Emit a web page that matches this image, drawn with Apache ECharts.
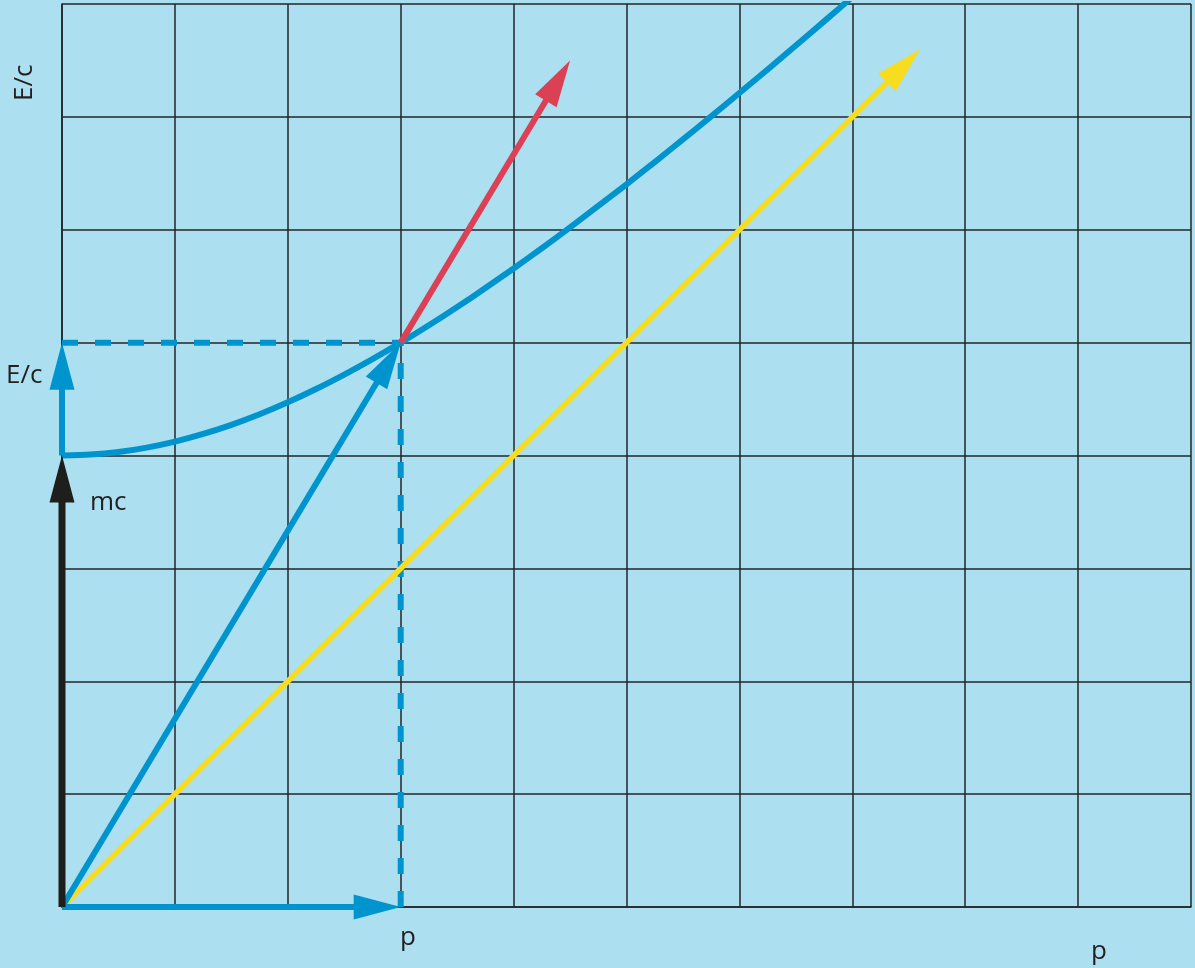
<!DOCTYPE html>
<html>
<head>
<meta charset="utf-8">
<title>Energie-Impuls-Diagramm</title>
<script src="https://cdn.jsdelivr.net/npm/echarts@6/dist/echarts.min.js"></script>
<style>
  html, body { margin: 0; padding: 0; background: #acdff0; }
  #chart { width: 1195px; height: 968px; }
</style>
</head>
<body>
<div id="chart"></div>
<script>
// Axis ranges (grid units) and tick step
const xTicks = [0, 1, 2, 3, 4, 5, 6, 7, 8, 9, 10];
const yTicks = [0, 1, 2, 3, 4, 5, 6, 7, 8];

// Energy curve E/c over p (rest value mc = 4)
const curveP = [0, 0.25, 0.5, 0.75, 1, 1.25, 1.5, 1.75, 2, 2.25, 2.5, 2.75, 3, 3.25, 3.5, 3.75, 4, 4.25, 4.5, 4.75, 5, 5.25, 5.5, 5.75, 6, 6.25, 6.5, 6.75, 7, 7.25];
const curveE = [4, 4.008, 4.031, 4.070, 4.123, 4.191, 4.272, 4.366, 4.472, 4.589, 4.717, 4.854, 5, 5.154, 5.315, 5.483, 5.657, 5.836, 6.021, 6.211, 6.403, 6.600, 6.800, 7.004, 7.211, 7.420, 7.632, 7.846, 8.062, 8.280];

// Arrows: [x1, y1, x2, y2]
const restArrow = [0, 0, 0, 4];        // mc
const energyArrow = [0, 4, 0, 5];      // E/c increment
const momentumArrow = [0, 0, 3, 0];    // p
const fourVector = [0, 0, 3, 5];       // resulting vector
const extension = [3, 5, 4.5, 7.5];    // continuation
const lightLine = [0, 0, 7.6, 7.6];    // E/c = p

// Guide lines to the point (p, E/c)
const guideH = [[0, 5], [3, 5]];
const guideV = [[3, 0], [3, 5]];

// Text labels
const labelEc = 'E/c';
const labelMc = 'mc';
const labelP = 'p';

const BLUE = '#0094cf';
const RED = '#dc4055';
const YELLOW = '#f7dc20';
const BLACK = '#1e1e1c';
const GRIDC = '#222628';

function arrowSeries(name, row, color, width) {
  return {
    type: 'custom',
    name: name,
    coordinateSystem: 'cartesian2d',
    clip: false,
    encode: { x: [0, 2], y: [1, 3] },
    data: [row],
    z: 5,
    renderItem: function (params, api) {
      const a = api.coord([api.value(0), api.value(1)]);
      const b = api.coord([api.value(2), api.value(3)]);
      const dx = b[0] - a[0], dy = b[1] - a[1];
      const len = Math.sqrt(dx * dx + dy * dy);
      const ux = dx / len, uy = dy / len;
      const headLen = 47, headW = 25;
      const bx = b[0] - ux * headLen, by = b[1] - uy * headLen;
      const nx = -uy, ny = ux;
      return {
        type: 'group',
        children: [
          {
            type: 'line',
            shape: { x1: a[0], y1: a[1], x2: bx + ux * 2, y2: by + uy * 2 },
            style: { stroke: color, lineWidth: width, lineCap: 'butt' }
          },
          {
            type: 'polygon',
            shape: { points: [[b[0], b[1]], [bx + nx * headW / 2, by + ny * headW / 2], [bx - nx * headW / 2, by - ny * headW / 2]] },
            style: { fill: color }
          }
        ]
      };
    }
  };
}

const chart = echarts.init(document.getElementById('chart'), null, { renderer: 'canvas' });

const font = '"Open Sans", "Noto Sans", sans-serif';
const textStyle = { fill: '#231f20', font: '26px ' + font };

chart.setOption({
  backgroundColor: '#acdff0',
  animation: false,
  grid: { left: 62, right: 4, top: 4, bottom: 61, containLabel: false },
  xAxis: {
    type: 'value',
    min: xTicks[0], max: xTicks[xTicks.length - 1], interval: 1,
    axisLine: { show: true, lineStyle: { color: GRIDC, width: 1.5 } },
    axisTick: { show: false },
    axisLabel: { show: false },
    splitLine: { show: true, showMinLine: true, showMaxLine: true, lineStyle: { color: GRIDC, width: 1.5 } }
  },
  yAxis: {
    type: 'value',
    min: yTicks[0], max: yTicks[yTicks.length - 1], interval: 1,
    axisLine: { show: true, lineStyle: { color: GRIDC, width: 1.5 } },
    axisTick: { show: false },
    axisLabel: { show: false },
    splitLine: { show: true, showMinLine: true, showMaxLine: true, lineStyle: { color: GRIDC, width: 1.5 } }
  },
  series: [
    {
      type: 'line', name: 'guideH', data: guideH, symbol: 'none', z: 3,
      lineStyle: { color: BLUE, width: 6, type: [16, 17] }
    },
    {
      type: 'line', name: 'guideV', data: guideV, symbol: 'none', z: 3,
      lineStyle: { color: BLUE, width: 6, type: [16, 17], dashOffset: 0 }
    },
    arrowSeries('light', lightLine, YELLOW, 5.5),
    {
      type: 'line', name: 'energy', z: 4,
      data: curveP.map((p, i) => [p, curveE[i]]),
      symbol: 'none', smooth: 0.25, clip: true,
      lineStyle: { color: BLUE, width: 6, join: 'round' }
    },
    arrowSeries('extension', extension, RED, 6),
    arrowSeries('vector', fourVector, BLUE, 6),
    arrowSeries('momentum', momentumArrow, BLUE, 6),
    arrowSeries('energyStep', energyArrow, BLUE, 6),
    arrowSeries('rest', restArrow, BLACK, 7)
  ],
  graphic: [
    { type: 'text', rotation: Math.PI / 2, x: 12, y: 101,
      style: Object.assign({ text: labelEc }, textStyle) },
    { type: 'text', x: 6, y: 376, style: Object.assign({ text: labelEc, verticalAlign: 'middle' }, textStyle) },
    { type: 'text', x: 90, y: 503, style: Object.assign({ text: labelMc, verticalAlign: 'middle' }, textStyle) },
    { type: 'text', x: 400, y: 938, style: Object.assign({ text: labelP, verticalAlign: 'middle' }, textStyle) },
    { type: 'text', x: 1091, y: 952, style: Object.assign({ text: labelP, verticalAlign: 'middle' }, textStyle) }
  ]
});
</script>
</body>
</html>
